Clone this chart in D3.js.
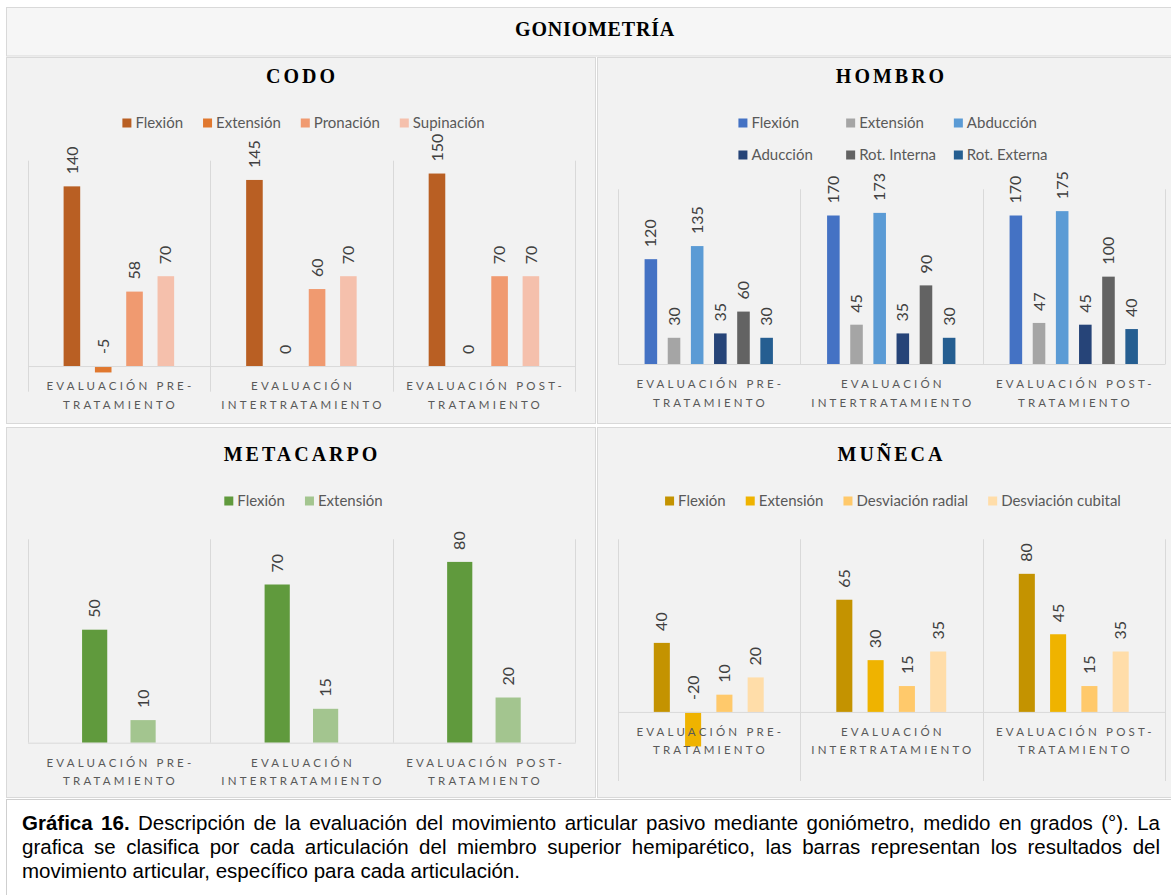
<!DOCTYPE html>
<html>
<head>
<meta charset="utf-8">
<script src="https://cdnjs.cloudflare.com/ajax/libs/d3/7.8.5/d3.min.js"></script>
<style>
  body { margin: 0; background: #fff; }
  svg { display: block; }
</style>
</head>
<body>
<div id="chart"></div>
<script>
// categories (same three evaluations in every panel) and their wrapped tick labels
const categories = ['EVALUACIÓN PRE-TRATAMIENTO', 'EVALUACIÓN INTERTRATAMIENTO', 'EVALUACIÓN POST-TRATAMIENTO'];
const tickLines = [['EVALUACIÓN PRE-', 'TRATAMIENTO'], ['EVALUACIÓN', 'INTERTRATAMIENTO'], ['EVALUACIÓN POST-', 'TRATAMIENTO']];

// values per series, one number per category (degrees)
const codoSeries = ['Flexión', 'Extensión', 'Pronación', 'Supinación'];
const codoValues = [[140, 145, 150], [-5, 0, 0], [58, 60, 70], [70, 70, 70]];

const hombroSeries = ['Flexión', 'Extensión', 'Abducción', 'Aducción', 'Rot. Interna', 'Rot. Externa'];
const hombroValues = [[120, 170, 170], [30, 45, 47], [135, 173, 175], [35, 35, 45], [60, 90, 100], [30, 30, 40]];

const metacarpoSeries = ['Flexión', 'Extensión'];
const metacarpoValues = [[50, 70, 80], [10, 15, 20]];

const munecaSeries = ['Flexión', 'Extensión', 'Desviación radial', 'Desviación cubital'];
const munecaValues = [[40, 65, 80], [-20, 30, 45], [10, 15, 15], [20, 35, 35]];

// axis ranges
const codoDomain = [-20, 160];
const hombroDomain = [0, 200];
const metacarpoDomain = [0, 90];
const munecaDomain = [-40, 100];

const captionBold = 'Gráfica 16.';
const captionLines = [
    ' Descripción de la evaluación del movimiento articular pasivo mediante goniómetro, medido en grados (°). La',
    'grafica se clasifica por cada articulación del miembro superior hemiparético, las barras representan los resultados del',
    'movimiento articular, específico para cada articulación.'
];

let panels = [
    {
        title: 'CODO', series: codoSeries, values: codoValues, domain: codoDomain,
        colors: ['#B95F23', '#E0782F', '#F09A70', '#F5C0AC'],
        box: [6, 57, 589, 366], titleY: 83, legendY: 123, cols: 0,
        plot: { l: 27.6, r: 575.2, t: 160.7, b: 391.7 }, pad: [0.47, 1.15]
    },
    {
        title: 'HOMBRO', series: hombroSeries, values: hombroValues, domain: hombroDomain,
        colors: ['#4472C4', '#A5A5A5', '#5B9BD5', '#264478', '#636363', '#255E91'],
        box: [597, 57, 586, 366], titleY: 83, legendY: 123, cols: 3,
        plot: { l: 617.5, r: 1165, t: 189.3, b: 364 }, pad: [0.457, 1.17]
    },
    {
        title: 'METACARPO', series: metacarpoSeries, values: metacarpoValues, domain: metacarpoDomain,
        colors: ['#609A3D', '#A3C58F'],
        box: [6, 427, 589, 370], titleY: 461, legendY: 501, cols: 0,
        plot: { l: 27.6, r: 575.2, t: 539.3, b: 742.7 }, pad: [0.48, 1.125]
    },
    {
        title: 'MUÑECA', series: munecaSeries, values: munecaValues, domain: munecaDomain,
        colors: ['#C49300', '#EFB300', '#FFC96B', '#FFDDA9'],
        box: [597, 427, 586, 370], titleY: 461, legendY: 501, cols: 0,
        plot: { l: 617.5, r: 1165, t: 539.3, b: 781 }, pad: [0.487, 1.16]
    }
];

let svg = d3.select('#chart')
    .append('svg')
    .attr('width', 1171)
    .attr('height', 895)
    .style('font-family', 'Lato, "Open Sans", sans-serif');

// header
svg.append('rect')
    .attr('x', 6.5).attr('y', 7.5)
    .attr('width', 1180).attr('height', 48.5)
    .attr('fill', '#f6f6f6')
    .attr('stroke', '#d9d9d9');

svg.append('text')
    .attr('x', 595).attr('y', 36)
    .attr('text-anchor', 'middle')
    .style('font-family', '"Liberation Serif", serif')
    .style('font-weight', 'bold')
    .style('font-size', '20px')
    .style('letter-spacing', '0.8px')
    .text('GONIOMETRÍA');

panels.forEach(p => {
    let g = svg.append('g');
    let cx = p.box[0] + p.box[2] / 2;

    g.append('rect')
        .attr('x', p.box[0] + 0.5).attr('y', p.box[1] + 0.5)
        .attr('width', p.box[2]).attr('height', p.box[3])
        .attr('fill', '#f2f2f2')
        .attr('stroke', '#d9d9d9');

    g.append('text')
        .attr('x', cx + 1.5).attr('y', p.titleY)
        .attr('text-anchor', 'middle')
        .style('font-family', '"Liberation Serif", serif')
        .style('font-weight', 'bold')
        .style('font-size', '20px')
        .style('letter-spacing', '3px')
        .text(p.title);

    //Create scales
    let x0 = d3.scaleBand()
        .domain(categories)
        .range([p.plot.l, p.plot.r]);

    let x1 = d3.scaleBand()
        .domain(p.series)
        .range([0, x0.bandwidth()])
        .paddingInner(p.pad[0])
        .paddingOuter(p.pad[1]);

    let y = d3.scaleLinear()
        .domain(p.domain)
        .range([p.plot.b, p.plot.t]);

    // separators between categories
    let edges = categories.map(c => x0(c)).concat([p.plot.r]);
    g.selectAll('line.sep')
        .data(edges)
        .join('line')
        .attr('class', 'sep')
        .attr('x1', d => Math.round(d) + 0.5).attr('x2', d => Math.round(d) + 0.5)
        .attr('y1', p.plot.t).attr('y2', p.plot.b)
        .attr('stroke', '#d9d9d9');

    let rows = [];
    p.series.forEach((s, i) => {
        categories.forEach((c, j) => rows.push({ s: s, c: c, v: p.values[i][j], color: p.colors[i] }));
    });

    g.selectAll('rect.bar')
        .data(rows)
        .join('rect')
        .attr('class', 'bar')
        .attr('x', d => x0(d.c) + x1(d.s))
        .attr('width', x1.bandwidth())
        .attr('y', d => y(Math.max(d.v, 0)))
        .attr('height', d => Math.abs(y(d.v) - y(0)))
        .attr('fill', d => d.color);

    // category axis on the zero line
    let axis = g.append('g')
        .attr('transform', `translate(0, ${y(0)})`)
        .call(d3.axisBottom(x0).tickSize(0).tickSizeOuter(0).tickPadding(0));

    axis.attr('font-family', 'Lato, "Open Sans", sans-serif').attr('font-size', 11.5);
    axis.select('.domain').attr('stroke', '#d9d9d9');

    axis.selectAll('.tick text').each(function (d, i) {
        let t = d3.select(this).text(null).attr('y', 0).attr('dy', null)
            .attr('fill', '#595959')
            .style('letter-spacing', '3.2px');
        tickLines[i].forEach((line, k) => {
            t.append('tspan')
                .attr('x', 1.6)
                .attr('y', 20 + k * 18.5)
                .attr('dy', '0.35em')
                .text(line);
        });
    });

    // data labels
    g.selectAll('text.val')
        .data(rows)
        .join('text')
        .attr('class', 'val')
        .attr('transform', d => `translate(${x0(d.c) + x1(d.s) + x1.bandwidth() / 2}, ${y(Math.max(d.v, 0)) - 12}) rotate(-90)`)
        .attr('dy', '0.35em')
        .style('font-size', '16px')
        .attr('fill', '#404040')
        .text(d => d.v);

    // legend
    let legend = g.append('g');
    let items = legend.selectAll('g.item')
        .data(p.series.map((s, i) => ({ s: s, color: p.colors[i] })))
        .join('g')
        .attr('class', 'item');

    items.append('rect')
        .attr('width', 9).attr('height', 9)
        .attr('y', -4.5)
        .attr('fill', d => d.color);

    items.append('text')
        .attr('x', 13)
        .attr('dy', '0.35em')
        .style('font-size', '15px')
        .attr('fill', '#595959')
        .text(d => d.s);

    let widths = [];
    items.select('text').each(function () { widths.push(13 + this.getComputedTextLength()); });

    let gap = 20;
    if (p.cols) {
        let colW = d3.max(widths) + 14;
        let start = cx + 3 - (p.cols * colW - 14) / 2;
        items.attr('transform', (d, i) => `translate(${start + (i % p.cols) * colW}, ${p.legendY + Math.floor(i / p.cols) * 32})`);
    } else {
        let total = d3.sum(widths) + gap * (widths.length - 1);
        let pos = cx + 3 - total / 2;
        let xs = widths.map(w => { let v = pos; pos += w + gap; return v; });
        items.attr('transform', (d, i) => `translate(${xs[i]}, ${p.legendY})`);
    }
});

// caption
svg.append('rect')
    .attr('x', 6.5).attr('y', 799.5)
    .attr('width', 1180).attr('height', 110)
    .attr('fill', '#ffffff')
    .attr('stroke', '#cfcfcf');

let left = 22, right = 1160;
captionLines.forEach((line, i) => {
    let t = svg.append('text')
        .attr('x', left)
        .attr('y', 823 + i * 24)
        .attr('dy', '0.35em')
        .style('font-family', '"Liberation Sans", Arial, sans-serif')
        .style('font-size', '20.5px')
        .attr('fill', '#000');
    if (i === 0) {
        t.append('tspan').style('font-weight', 'bold').text(captionBold);
    }
    t.append('tspan').text(line);

    // justify the full lines
    if (i < captionLines.length - 1) {
        let w = t.node().getComputedTextLength();
        let spaces = ((i === 0 ? captionBold : '') + line).split(' ').length - 1;
        t.style('word-spacing', ((right - left - w) / spaces) + 'px');
    }
});
</script>
</body>
</html>
